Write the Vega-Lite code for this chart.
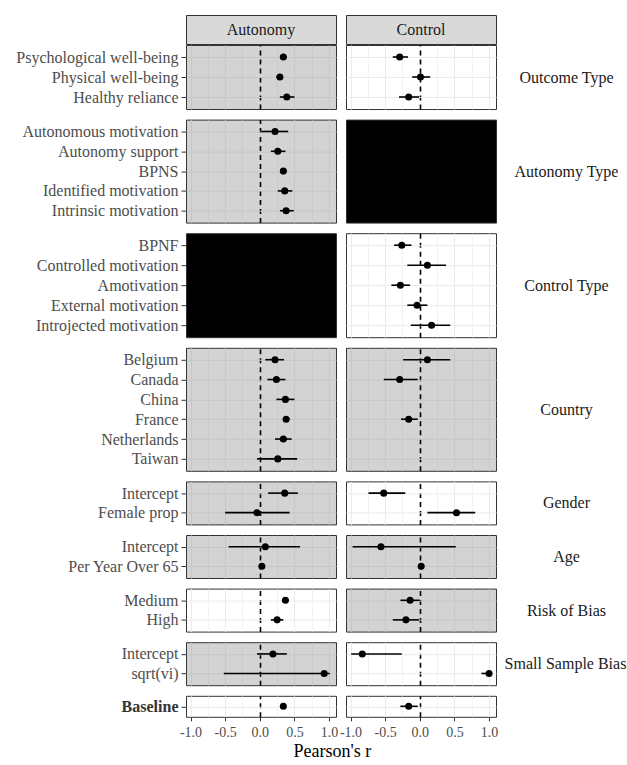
{
  "$schema": "https://vega.github.io/schema/vega-lite/v6.json",
  "background": "white",
  "padding": {"left": 10, "top": 14, "right": 0, "bottom": 2},
  "spacing": 8.6,
  "title": {"text": "Pearson's r", "orient": "bottom", "anchor": "middle", "font": "Liberation Serif", "fontSize": 18, "fontWeight": "normal", "color": "#000000", "offset": 3, "dx": 14},
  "config": {
    "font": "Liberation Serif",
    "view": {"stroke": "#333333", "strokeWidth": 1},
    "axis": {"labelFont": "Liberation Serif", "titleFont": "Liberation Serif"}
  },
  "datasets": {
    "d": [
      {"type": "Autonomy", "group": "Outcome Type", "label": "Psychological well-being", "est": 0.34, "lo": 0.30, "hi": 0.39},
      {"type": "Autonomy", "group": "Outcome Type", "label": "Physical well-being", "est": 0.29, "lo": 0.24, "hi": 0.33},
      {"type": "Autonomy", "group": "Outcome Type", "label": "Healthy reliance", "est": 0.39, "lo": 0.29, "hi": 0.50},
      {"type": "Autonomy", "group": "Autonomy Type", "label": "Autonomous motivation", "est": 0.22, "lo": 0.02, "hi": 0.41},
      {"type": "Autonomy", "group": "Autonomy Type", "label": "Autonomy support", "est": 0.26, "lo": 0.16, "hi": 0.37},
      {"type": "Autonomy", "group": "Autonomy Type", "label": "BPNS", "est": 0.34, "lo": 0.30, "hi": 0.39},
      {"type": "Autonomy", "group": "Autonomy Type", "label": "Identified motivation", "est": 0.36, "lo": 0.26, "hi": 0.47},
      {"type": "Autonomy", "group": "Autonomy Type", "label": "Intrinsic motivation", "est": 0.38, "lo": 0.29, "hi": 0.49},
      {"type": "Autonomy", "group": "Country", "label": "Belgium", "est": 0.22, "lo": 0.08, "hi": 0.35},
      {"type": "Autonomy", "group": "Country", "label": "Canada", "est": 0.24, "lo": 0.11, "hi": 0.37},
      {"type": "Autonomy", "group": "Country", "label": "China", "est": 0.37, "lo": 0.24, "hi": 0.50},
      {"type": "Autonomy", "group": "Country", "label": "France", "est": 0.38, "lo": 0.34, "hi": 0.43},
      {"type": "Autonomy", "group": "Country", "label": "Netherlands", "est": 0.34, "lo": 0.22, "hi": 0.46},
      {"type": "Autonomy", "group": "Country", "label": "Taiwan", "est": 0.26, "lo": -0.04, "hi": 0.54},
      {"type": "Autonomy", "group": "Gender", "label": "Intercept", "est": 0.36, "lo": 0.12, "hi": 0.55},
      {"type": "Autonomy", "group": "Gender", "label": "Female prop", "est": -0.04, "lo": -0.50, "hi": 0.43},
      {"type": "Autonomy", "group": "Age", "label": "Intercept", "est": 0.08, "lo": -0.45, "hi": 0.58},
      {"type": "Autonomy", "group": "Age", "label": "Per Year Over 65", "est": 0.03, "lo": 0.01, "hi": 0.05},
      {"type": "Autonomy", "group": "Risk of Bias", "label": "Medium", "est": 0.37, "lo": 0.33, "hi": 0.42},
      {"type": "Autonomy", "group": "Risk of Bias", "label": "High", "est": 0.25, "lo": 0.16, "hi": 0.34},
      {"type": "Autonomy", "group": "Small Sample Bias", "label": "Intercept", "est": 0.19, "lo": -0.04, "hi": 0.39},
      {"type": "Autonomy", "group": "Small Sample Bias", "label": "sqrt(vi)", "est": 0.93, "lo": -0.52, "hi": 1.01},
      {"type": "Autonomy", "group": "Baseline", "label": "Baseline", "est": 0.34, "lo": 0.30, "hi": 0.37},
      {"type": "Control", "group": "Outcome Type", "label": "Psychological well-being", "est": -0.29, "lo": -0.39, "hi": -0.17},
      {"type": "Control", "group": "Outcome Type", "label": "Physical well-being", "est": 0.01, "lo": -0.11, "hi": 0.15},
      {"type": "Control", "group": "Outcome Type", "label": "Healthy reliance", "est": -0.16, "lo": -0.30, "hi": -0.01},
      {"type": "Control", "group": "Control Type", "label": "BPNF", "est": -0.26, "lo": -0.37, "hi": -0.12},
      {"type": "Control", "group": "Control Type", "label": "Controlled motivation", "est": 0.11, "lo": -0.18, "hi": 0.38},
      {"type": "Control", "group": "Control Type", "label": "Amotivation", "est": -0.28, "lo": -0.41, "hi": -0.14},
      {"type": "Control", "group": "Control Type", "label": "External motivation", "est": -0.04, "lo": -0.18, "hi": 0.11},
      {"type": "Control", "group": "Control Type", "label": "Introjected motivation", "est": 0.17, "lo": -0.13, "hi": 0.44},
      {"type": "Control", "group": "Country", "label": "Belgium", "est": 0.11, "lo": -0.24, "hi": 0.44},
      {"type": "Control", "group": "Country", "label": "Canada", "est": -0.29, "lo": -0.52, "hi": -0.03},
      {"type": "Control", "group": "Country", "label": "France", "est": -0.16, "lo": -0.27, "hi": -0.03},
      {"type": "Control", "group": "Gender", "label": "Intercept", "est": -0.52, "lo": -0.74, "hi": -0.21},
      {"type": "Control", "group": "Gender", "label": "Female prop", "est": 0.53, "lo": 0.11, "hi": 0.80},
      {"type": "Control", "group": "Age", "label": "Intercept", "est": -0.56, "lo": -0.97, "hi": 0.52},
      {"type": "Control", "group": "Age", "label": "Per Year Over 65", "est": 0.02, "lo": -0.02, "hi": 0.06},
      {"type": "Control", "group": "Risk of Bias", "label": "Medium", "est": -0.14, "lo": -0.28, "hi": 0.00},
      {"type": "Control", "group": "Risk of Bias", "label": "High", "est": -0.20, "lo": -0.39, "hi": -0.01},
      {"type": "Control", "group": "Small Sample Bias", "label": "Intercept", "est": -0.83, "lo": -0.99, "hi": -0.26},
      {"type": "Control", "group": "Small Sample Bias", "label": "sqrt(vi)", "est": 1.00, "lo": 0.89, "hi": 1.00},
      {"type": "Control", "group": "Baseline", "label": "Baseline", "est": -0.16, "lo": -0.28, "hi": -0.03}
    ]
  },
  "vconcat": [
    {
      "spacing": -4,
      "vconcat": [
        {
          "spacing": 10, "bounds": "flush",
          "hconcat": [
            {
              "width": 150, "height": 29,
              "view": {"fill": "#D9D9D9", "stroke": "#333333"},
              "data": {"name": "d"},
              "transform": [{"filter": "datum.type == 'Autonomy' && datum.group == 'Baseline'"}],
              "mark": {"type": "text", "fontSize": 16, "color": "#1A1A1A", "font": "Liberation Serif"},
              "encoding": {
                "text": {"field": "type"},
                "y": {"datum": "h", "type": "nominal", "axis": {"labels": false, "ticks": false, "domain": false, "grid": false, "title": null, "minExtent": 175}}
              }
            },
            {
              "width": 150, "height": 29,
              "view": {"fill": "#D9D9D9", "stroke": "#333333"},
              "data": {"name": "d"},
              "transform": [{"filter": "datum.type == 'Control' && datum.group == 'Baseline'"}],
              "mark": {"type": "text", "fontSize": 16, "color": "#1A1A1A", "font": "Liberation Serif"},
              "encoding": {"text": {"field": "type"}}
            }
          ]
        },
        {
          "spacing": 10, "bounds": "flush",
          "hconcat": [
            {
              "width": 150, "height": 64,
              "view": {"fill": "#D3D3D3", "stroke": "#333333"},
              "data": {"name": "d"},
              "transform": [{"filter": "datum.type == 'Autonomy' && datum.group == 'Outcome Type'"}],
              "encoding": {"y": {"field": "label", "type": "nominal", "scale": {"type": "point", "padding": 0.6, "domain": ["Psychological well-being", "Physical well-being", "Healthy reliance"]},
                "axis": {"orient": "left", "title": null, "domain": false, "tickSize": 5, "tickColor": "#333333", "labelFontSize": 16, "labelColor": "#4D4D4D", "labelPadding": 3, "labelLimit": 0, "minExtent": 175, "grid": true, "gridColor": "#C6C6C6", "gridWidth": 1}}},
              "layer": [
                {"mark": {"type": "rule", "strokeWidth": 1.6, "color": "#000000"},
                 "encoding": {"x": {"field": "lo", "type": "quantitative", "scale": {"domain": [-1.065, 1.1], "nice": false, "zero": false},
                   "axis": {"title": null, "labels": false, "ticks": false, "domain": false, "grid": true, "values": [-1, -0.75, -0.5, -0.25, 0, 0.25, 0.5, 0.75, 1], "minExtent": 0, "gridColor": {"condition": {"test": "datum.value == 0", "value": "#000000"}, "value": "#C6C6C6"}, "gridDash": {"condition": {"test": "datum.value == 0", "value": [5, 4]}, "value": []}, "gridWidth": {"condition": [{"test": "datum.value == 0", "value": 1.6}, {"test": "abs(datum.value*2 - round(datum.value*2)) > 0.1", "value": 0.6}], "value": 1}}},
                   "x2": {"field": "hi"}}},
                {"mark": {"type": "point", "filled": true, "size": 50, "color": "#000000", "opacity": 1},
                 "encoding": {"x": {"field": "est", "type": "quantitative", "scale": {"domain": [-1.065, 1.1], "nice": false, "zero": false},
                   "axis": {"title": null, "labels": false, "ticks": false, "domain": false, "grid": true, "values": [-1, -0.75, -0.5, -0.25, 0, 0.25, 0.5, 0.75, 1], "minExtent": 0, "gridColor": {"condition": {"test": "datum.value == 0", "value": "#000000"}, "value": "#C6C6C6"}, "gridDash": {"condition": {"test": "datum.value == 0", "value": [5, 4]}, "value": []}, "gridWidth": {"condition": [{"test": "datum.value == 0", "value": 1.6}, {"test": "abs(datum.value*2 - round(datum.value*2)) > 0.1", "value": 0.6}], "value": 1}}}}}
              ]
            },
            {
              "width": 150, "height": 64,
              "view": {"fill": "#FFFFFF", "stroke": "#333333"},
              "data": {"name": "d"},
              "transform": [{"filter": "datum.type == 'Control' && datum.group == 'Outcome Type'"}],
              "encoding": {"y": {"field": "label", "type": "nominal", "scale": {"type": "point", "padding": 0.6, "domain": ["Psychological well-being", "Physical well-being", "Healthy reliance"]},
                "axis": {"orient": "right", "title": "Outcome Type", "labels": false, "ticks": false, "domain": false, "grid": true, "gridColor": "#EBEBEB", "gridWidth": 1, "titleAngle": 0, "titleAlign": "center", "titleBaseline": "middle", "titleX": 70, "titleY": 32, "titleFontSize": 16, "titleFontWeight": "normal", "titleColor": "#1A1A1A"}}},
              "layer": [
                {"mark": {"type": "rule", "strokeWidth": 1.6, "color": "#000000"},
                 "encoding": {"x": {"field": "lo", "type": "quantitative", "scale": {"domain": [-1.065, 1.1], "nice": false, "zero": false},
                   "axis": {"title": null, "labels": false, "ticks": false, "domain": false, "grid": true, "values": [-1, -0.75, -0.5, -0.25, 0, 0.25, 0.5, 0.75, 1], "minExtent": 0, "gridColor": {"condition": {"test": "datum.value == 0", "value": "#000000"}, "value": "#EBEBEB"}, "gridDash": {"condition": {"test": "datum.value == 0", "value": [5, 4]}, "value": []}, "gridWidth": {"condition": [{"test": "datum.value == 0", "value": 1.6}, {"test": "abs(datum.value*2 - round(datum.value*2)) > 0.1", "value": 0.6}], "value": 1}}},
                   "x2": {"field": "hi"}}},
                {"mark": {"type": "point", "filled": true, "size": 50, "color": "#000000", "opacity": 1},
                 "encoding": {"x": {"field": "est", "type": "quantitative", "scale": {"domain": [-1.065, 1.1], "nice": false, "zero": false},
                   "axis": {"title": null, "labels": false, "ticks": false, "domain": false, "grid": true, "values": [-1, -0.75, -0.5, -0.25, 0, 0.25, 0.5, 0.75, 1], "minExtent": 0, "gridColor": {"condition": {"test": "datum.value == 0", "value": "#000000"}, "value": "#EBEBEB"}, "gridDash": {"condition": {"test": "datum.value == 0", "value": [5, 4]}, "value": []}, "gridWidth": {"condition": [{"test": "datum.value == 0", "value": 1.6}, {"test": "abs(datum.value*2 - round(datum.value*2)) > 0.1", "value": 0.6}], "value": 1}}}}}
              ]
            }
          ]
        }
      ]
    },
    {
      "spacing": 10, "bounds": "flush",
      "hconcat": [
        {
          "width": 150, "height": 103,
          "view": {"fill": "#D3D3D3", "stroke": "#333333"},
          "data": {"name": "d"},
          "transform": [{"filter": "datum.type == 'Autonomy' && datum.group == 'Autonomy Type'"}],
          "encoding": {"y": {"field": "label", "type": "nominal", "scale": {"type": "point", "padding": 0.6, "domain": ["Autonomous motivation", "Autonomy support", "BPNS", "Identified motivation", "Intrinsic motivation"]},
            "axis": {"orient": "left", "title": null, "domain": false, "tickSize": 5, "tickColor": "#333333", "labelFontSize": 16, "labelColor": "#4D4D4D", "labelPadding": 3, "labelLimit": 0, "minExtent": 175, "grid": true, "gridColor": "#C6C6C6", "gridWidth": 1}}},
          "layer": [
            {"mark": {"type": "rule", "strokeWidth": 1.6, "color": "#000000"},
             "encoding": {"x": {"field": "lo", "type": "quantitative", "scale": {"domain": [-1.065, 1.1], "nice": false, "zero": false},
               "axis": {"title": null, "labels": false, "ticks": false, "domain": false, "grid": true, "values": [-1, -0.75, -0.5, -0.25, 0, 0.25, 0.5, 0.75, 1], "minExtent": 0, "gridColor": {"condition": {"test": "datum.value == 0", "value": "#000000"}, "value": "#C6C6C6"}, "gridDash": {"condition": {"test": "datum.value == 0", "value": [5, 4]}, "value": []}, "gridWidth": {"condition": [{"test": "datum.value == 0", "value": 1.6}, {"test": "abs(datum.value*2 - round(datum.value*2)) > 0.1", "value": 0.6}], "value": 1}}},
               "x2": {"field": "hi"}}},
            {"mark": {"type": "point", "filled": true, "size": 50, "color": "#000000", "opacity": 1},
             "encoding": {"x": {"field": "est", "type": "quantitative", "scale": {"domain": [-1.065, 1.1], "nice": false, "zero": false},
               "axis": {"title": null, "labels": false, "ticks": false, "domain": false, "grid": true, "values": [-1, -0.75, -0.5, -0.25, 0, 0.25, 0.5, 0.75, 1], "minExtent": 0, "gridColor": {"condition": {"test": "datum.value == 0", "value": "#000000"}, "value": "#C6C6C6"}, "gridDash": {"condition": {"test": "datum.value == 0", "value": [5, 4]}, "value": []}, "gridWidth": {"condition": [{"test": "datum.value == 0", "value": 1.6}, {"test": "abs(datum.value*2 - round(datum.value*2)) > 0.1", "value": 0.6}], "value": 1}}}}}
          ]
        },
        {
          "width": 150, "height": 103,
          "view": {"fill": "#000000", "stroke": "#333333"},
          "data": {"name": "d"},
          "transform": [{"filter": "datum.type == 'Control' && datum.group == 'Autonomy Type'"}],
          "mark": {"type": "point", "filled": true, "size": 50, "color": "#000000"},
          "encoding": {
            "x": {"field": "est", "type": "quantitative", "scale": {"domain": [-1.065, 1.1], "nice": false, "zero": false},
                  "axis": {"title": null, "labels": false, "ticks": false, "domain": false, "grid": false, "minExtent": 0}},
            "y": {"field": "label", "type": "nominal", "scale": {"type": "point", "padding": 0.6, "domain": ["Autonomous motivation", "Autonomy support", "BPNS", "Identified motivation", "Intrinsic motivation"]},
                  "axis": {"orient": "right", "title": "Autonomy Type", "labels": false, "ticks": false, "domain": false, "grid": false, "titleAngle": 0, "titleAlign": "center", "titleBaseline": "middle", "titleX": 70, "titleY": 51.5, "titleFontSize": 16, "titleFontWeight": "normal", "titleColor": "#1A1A1A"}}
          }
        }
      ]
    },
    {
      "spacing": 10, "bounds": "flush",
      "hconcat": [
        {
          "width": 150, "height": 104,
          "view": {"fill": "#000000", "stroke": "#333333"},
          "data": {"name": "d"},
          "transform": [{"filter": "datum.type == 'Autonomy' && datum.group == 'Control Type'"}],
          "mark": {"type": "point", "filled": true, "size": 50, "color": "#000000"},
          "encoding": {
            "x": {"field": "est", "type": "quantitative", "scale": {"domain": [-1.065, 1.1], "nice": false, "zero": false},
                  "axis": {"title": null, "labels": false, "ticks": false, "domain": false, "grid": false, "minExtent": 0}},
            "y": {"field": "label", "type": "nominal", "scale": {"type": "point", "padding": 0.6, "domain": ["BPNF", "Controlled motivation", "Amotivation", "External motivation", "Introjected motivation"]},
                  "axis": {"orient": "left", "title": null, "domain": false, "tickSize": 5, "tickColor": "#333333", "labelFontSize": 16, "labelColor": "#4D4D4D", "labelPadding": 3, "labelLimit": 0, "minExtent": 175, "grid": false}}
          }
        },
        {
          "width": 150, "height": 104,
          "view": {"fill": "#FFFFFF", "stroke": "#333333"},
          "data": {"name": "d"},
          "transform": [{"filter": "datum.type == 'Control' && datum.group == 'Control Type'"}],
          "encoding": {"y": {"field": "label", "type": "nominal", "scale": {"type": "point", "padding": 0.6, "domain": ["BPNF", "Controlled motivation", "Amotivation", "External motivation", "Introjected motivation"]},
            "axis": {"orient": "right", "title": "Control Type", "labels": false, "ticks": false, "domain": false, "grid": true, "gridColor": "#EBEBEB", "gridWidth": 1, "titleAngle": 0, "titleAlign": "center", "titleBaseline": "middle", "titleX": 70, "titleY": 52, "titleFontSize": 16, "titleFontWeight": "normal", "titleColor": "#1A1A1A"}}},
          "layer": [
            {"mark": {"type": "rule", "strokeWidth": 1.6, "color": "#000000"},
             "encoding": {"x": {"field": "lo", "type": "quantitative", "scale": {"domain": [-1.065, 1.1], "nice": false, "zero": false},
               "axis": {"title": null, "labels": false, "ticks": false, "domain": false, "grid": true, "values": [-1, -0.75, -0.5, -0.25, 0, 0.25, 0.5, 0.75, 1], "minExtent": 0, "gridColor": {"condition": {"test": "datum.value == 0", "value": "#000000"}, "value": "#EBEBEB"}, "gridDash": {"condition": {"test": "datum.value == 0", "value": [5, 4]}, "value": []}, "gridWidth": {"condition": [{"test": "datum.value == 0", "value": 1.6}, {"test": "abs(datum.value*2 - round(datum.value*2)) > 0.1", "value": 0.6}], "value": 1}}},
               "x2": {"field": "hi"}}},
            {"mark": {"type": "point", "filled": true, "size": 50, "color": "#000000", "opacity": 1},
             "encoding": {"x": {"field": "est", "type": "quantitative", "scale": {"domain": [-1.065, 1.1], "nice": false, "zero": false},
               "axis": {"title": null, "labels": false, "ticks": false, "domain": false, "grid": true, "values": [-1, -0.75, -0.5, -0.25, 0, 0.25, 0.5, 0.75, 1], "minExtent": 0, "gridColor": {"condition": {"test": "datum.value == 0", "value": "#000000"}, "value": "#EBEBEB"}, "gridDash": {"condition": {"test": "datum.value == 0", "value": [5, 4]}, "value": []}, "gridWidth": {"condition": [{"test": "datum.value == 0", "value": 1.6}, {"test": "abs(datum.value*2 - round(datum.value*2)) > 0.1", "value": 0.6}], "value": 1}}}}}
          ]
        }
      ]
    },
    {
      "spacing": 10, "bounds": "flush",
      "hconcat": [
        {
          "width": 150, "height": 123,
          "view": {"fill": "#D3D3D3", "stroke": "#333333"},
          "data": {"name": "d"},
          "transform": [{"filter": "datum.type == 'Autonomy' && datum.group == 'Country'"}],
          "encoding": {"y": {"field": "label", "type": "nominal", "scale": {"type": "point", "padding": 0.6, "domain": ["Belgium", "Canada", "China", "France", "Netherlands", "Taiwan"]},
            "axis": {"orient": "left", "title": null, "domain": false, "tickSize": 5, "tickColor": "#333333", "labelFontSize": 16, "labelColor": "#4D4D4D", "labelPadding": 3, "labelLimit": 0, "minExtent": 175, "grid": true, "gridColor": "#C6C6C6", "gridWidth": 1}}},
          "layer": [
            {"mark": {"type": "rule", "strokeWidth": 1.6, "color": "#000000"},
             "encoding": {"x": {"field": "lo", "type": "quantitative", "scale": {"domain": [-1.065, 1.1], "nice": false, "zero": false},
               "axis": {"title": null, "labels": false, "ticks": false, "domain": false, "grid": true, "values": [-1, -0.75, -0.5, -0.25, 0, 0.25, 0.5, 0.75, 1], "minExtent": 0, "gridColor": {"condition": {"test": "datum.value == 0", "value": "#000000"}, "value": "#C6C6C6"}, "gridDash": {"condition": {"test": "datum.value == 0", "value": [5, 4]}, "value": []}, "gridWidth": {"condition": [{"test": "datum.value == 0", "value": 1.6}, {"test": "abs(datum.value*2 - round(datum.value*2)) > 0.1", "value": 0.6}], "value": 1}}},
               "x2": {"field": "hi"}}},
            {"mark": {"type": "point", "filled": true, "size": 50, "color": "#000000", "opacity": 1},
             "encoding": {"x": {"field": "est", "type": "quantitative", "scale": {"domain": [-1.065, 1.1], "nice": false, "zero": false},
               "axis": {"title": null, "labels": false, "ticks": false, "domain": false, "grid": true, "values": [-1, -0.75, -0.5, -0.25, 0, 0.25, 0.5, 0.75, 1], "minExtent": 0, "gridColor": {"condition": {"test": "datum.value == 0", "value": "#000000"}, "value": "#C6C6C6"}, "gridDash": {"condition": {"test": "datum.value == 0", "value": [5, 4]}, "value": []}, "gridWidth": {"condition": [{"test": "datum.value == 0", "value": 1.6}, {"test": "abs(datum.value*2 - round(datum.value*2)) > 0.1", "value": 0.6}], "value": 1}}}}}
          ]
        },
        {
          "width": 150, "height": 123,
          "view": {"fill": "#D3D3D3", "stroke": "#333333"},
          "data": {"name": "d"},
          "transform": [{"filter": "datum.type == 'Control' && datum.group == 'Country'"}],
          "encoding": {"y": {"field": "label", "type": "nominal", "scale": {"type": "point", "padding": 0.6, "domain": ["Belgium", "Canada", "China", "France", "Netherlands", "Taiwan"]},
            "axis": {"orient": "right", "title": "Country", "labels": false, "ticks": false, "domain": false, "grid": true, "gridColor": "#C6C6C6", "gridWidth": 1, "titleAngle": 0, "titleAlign": "center", "titleBaseline": "middle", "titleX": 70, "titleY": 61.5, "titleFontSize": 16, "titleFontWeight": "normal", "titleColor": "#1A1A1A"}}},
          "layer": [
            {"mark": {"type": "rule", "strokeWidth": 1.6, "color": "#000000"},
             "encoding": {"x": {"field": "lo", "type": "quantitative", "scale": {"domain": [-1.065, 1.1], "nice": false, "zero": false},
               "axis": {"title": null, "labels": false, "ticks": false, "domain": false, "grid": true, "values": [-1, -0.75, -0.5, -0.25, 0, 0.25, 0.5, 0.75, 1], "minExtent": 0, "gridColor": {"condition": {"test": "datum.value == 0", "value": "#000000"}, "value": "#C6C6C6"}, "gridDash": {"condition": {"test": "datum.value == 0", "value": [5, 4]}, "value": []}, "gridWidth": {"condition": [{"test": "datum.value == 0", "value": 1.6}, {"test": "abs(datum.value*2 - round(datum.value*2)) > 0.1", "value": 0.6}], "value": 1}}},
               "x2": {"field": "hi"}}},
            {"mark": {"type": "point", "filled": true, "size": 50, "color": "#000000", "opacity": 1},
             "encoding": {"x": {"field": "est", "type": "quantitative", "scale": {"domain": [-1.065, 1.1], "nice": false, "zero": false},
               "axis": {"title": null, "labels": false, "ticks": false, "domain": false, "grid": true, "values": [-1, -0.75, -0.5, -0.25, 0, 0.25, 0.5, 0.75, 1], "minExtent": 0, "gridColor": {"condition": {"test": "datum.value == 0", "value": "#000000"}, "value": "#C6C6C6"}, "gridDash": {"condition": {"test": "datum.value == 0", "value": [5, 4]}, "value": []}, "gridWidth": {"condition": [{"test": "datum.value == 0", "value": 1.6}, {"test": "abs(datum.value*2 - round(datum.value*2)) > 0.1", "value": 0.6}], "value": 1}}}}}
          ]
        }
      ]
    },
    {
      "spacing": 10, "bounds": "flush",
      "hconcat": [
        {
          "width": 150, "height": 43,
          "view": {"fill": "#D3D3D3", "stroke": "#333333"},
          "data": {"name": "d"},
          "transform": [{"filter": "datum.type == 'Autonomy' && datum.group == 'Gender'"}],
          "encoding": {"y": {"field": "label", "type": "nominal", "scale": {"type": "point", "padding": 0.6, "domain": ["Intercept", "Female prop"]},
            "axis": {"orient": "left", "title": null, "domain": false, "tickSize": 5, "tickColor": "#333333", "labelFontSize": 16, "labelColor": "#4D4D4D", "labelPadding": 3, "labelLimit": 0, "minExtent": 175, "grid": true, "gridColor": "#C6C6C6", "gridWidth": 1}}},
          "layer": [
            {"mark": {"type": "rule", "strokeWidth": 1.6, "color": "#000000"},
             "encoding": {"x": {"field": "lo", "type": "quantitative", "scale": {"domain": [-1.065, 1.1], "nice": false, "zero": false},
               "axis": {"title": null, "labels": false, "ticks": false, "domain": false, "grid": true, "values": [-1, -0.75, -0.5, -0.25, 0, 0.25, 0.5, 0.75, 1], "minExtent": 0, "gridColor": {"condition": {"test": "datum.value == 0", "value": "#000000"}, "value": "#C6C6C6"}, "gridDash": {"condition": {"test": "datum.value == 0", "value": [5, 4]}, "value": []}, "gridWidth": {"condition": [{"test": "datum.value == 0", "value": 1.6}, {"test": "abs(datum.value*2 - round(datum.value*2)) > 0.1", "value": 0.6}], "value": 1}}},
               "x2": {"field": "hi"}}},
            {"mark": {"type": "point", "filled": true, "size": 50, "color": "#000000", "opacity": 1},
             "encoding": {"x": {"field": "est", "type": "quantitative", "scale": {"domain": [-1.065, 1.1], "nice": false, "zero": false},
               "axis": {"title": null, "labels": false, "ticks": false, "domain": false, "grid": true, "values": [-1, -0.75, -0.5, -0.25, 0, 0.25, 0.5, 0.75, 1], "minExtent": 0, "gridColor": {"condition": {"test": "datum.value == 0", "value": "#000000"}, "value": "#C6C6C6"}, "gridDash": {"condition": {"test": "datum.value == 0", "value": [5, 4]}, "value": []}, "gridWidth": {"condition": [{"test": "datum.value == 0", "value": 1.6}, {"test": "abs(datum.value*2 - round(datum.value*2)) > 0.1", "value": 0.6}], "value": 1}}}}}
          ]
        },
        {
          "width": 150, "height": 43,
          "view": {"fill": "#FFFFFF", "stroke": "#333333"},
          "data": {"name": "d"},
          "transform": [{"filter": "datum.type == 'Control' && datum.group == 'Gender'"}],
          "encoding": {"y": {"field": "label", "type": "nominal", "scale": {"type": "point", "padding": 0.6, "domain": ["Intercept", "Female prop"]},
            "axis": {"orient": "right", "title": "Gender", "labels": false, "ticks": false, "domain": false, "grid": true, "gridColor": "#EBEBEB", "gridWidth": 1, "titleAngle": 0, "titleAlign": "center", "titleBaseline": "middle", "titleX": 70, "titleY": 21.5, "titleFontSize": 16, "titleFontWeight": "normal", "titleColor": "#1A1A1A"}}},
          "layer": [
            {"mark": {"type": "rule", "strokeWidth": 1.6, "color": "#000000"},
             "encoding": {"x": {"field": "lo", "type": "quantitative", "scale": {"domain": [-1.065, 1.1], "nice": false, "zero": false},
               "axis": {"title": null, "labels": false, "ticks": false, "domain": false, "grid": true, "values": [-1, -0.75, -0.5, -0.25, 0, 0.25, 0.5, 0.75, 1], "minExtent": 0, "gridColor": {"condition": {"test": "datum.value == 0", "value": "#000000"}, "value": "#EBEBEB"}, "gridDash": {"condition": {"test": "datum.value == 0", "value": [5, 4]}, "value": []}, "gridWidth": {"condition": [{"test": "datum.value == 0", "value": 1.6}, {"test": "abs(datum.value*2 - round(datum.value*2)) > 0.1", "value": 0.6}], "value": 1}}},
               "x2": {"field": "hi"}}},
            {"mark": {"type": "point", "filled": true, "size": 50, "color": "#000000", "opacity": 1},
             "encoding": {"x": {"field": "est", "type": "quantitative", "scale": {"domain": [-1.065, 1.1], "nice": false, "zero": false},
               "axis": {"title": null, "labels": false, "ticks": false, "domain": false, "grid": true, "values": [-1, -0.75, -0.5, -0.25, 0, 0.25, 0.5, 0.75, 1], "minExtent": 0, "gridColor": {"condition": {"test": "datum.value == 0", "value": "#000000"}, "value": "#EBEBEB"}, "gridDash": {"condition": {"test": "datum.value == 0", "value": [5, 4]}, "value": []}, "gridWidth": {"condition": [{"test": "datum.value == 0", "value": 1.6}, {"test": "abs(datum.value*2 - round(datum.value*2)) > 0.1", "value": 0.6}], "value": 1}}}}}
          ]
        }
      ]
    },
    {
      "spacing": 10, "bounds": "flush",
      "hconcat": [
        {
          "width": 150, "height": 43,
          "view": {"fill": "#D3D3D3", "stroke": "#333333"},
          "data": {"name": "d"},
          "transform": [{"filter": "datum.type == 'Autonomy' && datum.group == 'Age'"}],
          "encoding": {"y": {"field": "label", "type": "nominal", "scale": {"type": "point", "padding": 0.6, "domain": ["Intercept", "Per Year Over 65"]},
            "axis": {"orient": "left", "title": null, "domain": false, "tickSize": 5, "tickColor": "#333333", "labelFontSize": 16, "labelColor": "#4D4D4D", "labelPadding": 3, "labelLimit": 0, "minExtent": 175, "grid": true, "gridColor": "#C6C6C6", "gridWidth": 1}}},
          "layer": [
            {"mark": {"type": "rule", "strokeWidth": 1.6, "color": "#000000"},
             "encoding": {"x": {"field": "lo", "type": "quantitative", "scale": {"domain": [-1.065, 1.1], "nice": false, "zero": false},
               "axis": {"title": null, "labels": false, "ticks": false, "domain": false, "grid": true, "values": [-1, -0.75, -0.5, -0.25, 0, 0.25, 0.5, 0.75, 1], "minExtent": 0, "gridColor": {"condition": {"test": "datum.value == 0", "value": "#000000"}, "value": "#C6C6C6"}, "gridDash": {"condition": {"test": "datum.value == 0", "value": [5, 4]}, "value": []}, "gridWidth": {"condition": [{"test": "datum.value == 0", "value": 1.6}, {"test": "abs(datum.value*2 - round(datum.value*2)) > 0.1", "value": 0.6}], "value": 1}}},
               "x2": {"field": "hi"}}},
            {"mark": {"type": "point", "filled": true, "size": 50, "color": "#000000", "opacity": 1},
             "encoding": {"x": {"field": "est", "type": "quantitative", "scale": {"domain": [-1.065, 1.1], "nice": false, "zero": false},
               "axis": {"title": null, "labels": false, "ticks": false, "domain": false, "grid": true, "values": [-1, -0.75, -0.5, -0.25, 0, 0.25, 0.5, 0.75, 1], "minExtent": 0, "gridColor": {"condition": {"test": "datum.value == 0", "value": "#000000"}, "value": "#C6C6C6"}, "gridDash": {"condition": {"test": "datum.value == 0", "value": [5, 4]}, "value": []}, "gridWidth": {"condition": [{"test": "datum.value == 0", "value": 1.6}, {"test": "abs(datum.value*2 - round(datum.value*2)) > 0.1", "value": 0.6}], "value": 1}}}}}
          ]
        },
        {
          "width": 150, "height": 43,
          "view": {"fill": "#D3D3D3", "stroke": "#333333"},
          "data": {"name": "d"},
          "transform": [{"filter": "datum.type == 'Control' && datum.group == 'Age'"}],
          "encoding": {"y": {"field": "label", "type": "nominal", "scale": {"type": "point", "padding": 0.6, "domain": ["Intercept", "Per Year Over 65"]},
            "axis": {"orient": "right", "title": "Age", "labels": false, "ticks": false, "domain": false, "grid": true, "gridColor": "#C6C6C6", "gridWidth": 1, "titleAngle": 0, "titleAlign": "center", "titleBaseline": "middle", "titleX": 70, "titleY": 21.5, "titleFontSize": 16, "titleFontWeight": "normal", "titleColor": "#1A1A1A"}}},
          "layer": [
            {"mark": {"type": "rule", "strokeWidth": 1.6, "color": "#000000"},
             "encoding": {"x": {"field": "lo", "type": "quantitative", "scale": {"domain": [-1.065, 1.1], "nice": false, "zero": false},
               "axis": {"title": null, "labels": false, "ticks": false, "domain": false, "grid": true, "values": [-1, -0.75, -0.5, -0.25, 0, 0.25, 0.5, 0.75, 1], "minExtent": 0, "gridColor": {"condition": {"test": "datum.value == 0", "value": "#000000"}, "value": "#C6C6C6"}, "gridDash": {"condition": {"test": "datum.value == 0", "value": [5, 4]}, "value": []}, "gridWidth": {"condition": [{"test": "datum.value == 0", "value": 1.6}, {"test": "abs(datum.value*2 - round(datum.value*2)) > 0.1", "value": 0.6}], "value": 1}}},
               "x2": {"field": "hi"}}},
            {"mark": {"type": "point", "filled": true, "size": 50, "color": "#000000", "opacity": 1},
             "encoding": {"x": {"field": "est", "type": "quantitative", "scale": {"domain": [-1.065, 1.1], "nice": false, "zero": false},
               "axis": {"title": null, "labels": false, "ticks": false, "domain": false, "grid": true, "values": [-1, -0.75, -0.5, -0.25, 0, 0.25, 0.5, 0.75, 1], "minExtent": 0, "gridColor": {"condition": {"test": "datum.value == 0", "value": "#000000"}, "value": "#C6C6C6"}, "gridDash": {"condition": {"test": "datum.value == 0", "value": [5, 4]}, "value": []}, "gridWidth": {"condition": [{"test": "datum.value == 0", "value": 1.6}, {"test": "abs(datum.value*2 - round(datum.value*2)) > 0.1", "value": 0.6}], "value": 1}}}}}
          ]
        }
      ]
    },
    {
      "spacing": 10, "bounds": "flush",
      "hconcat": [
        {
          "width": 150, "height": 43,
          "view": {"fill": "#FFFFFF", "stroke": "#333333"},
          "data": {"name": "d"},
          "transform": [{"filter": "datum.type == 'Autonomy' && datum.group == 'Risk of Bias'"}],
          "encoding": {"y": {"field": "label", "type": "nominal", "scale": {"type": "point", "padding": 0.6, "domain": ["Medium", "High"]},
            "axis": {"orient": "left", "title": null, "domain": false, "tickSize": 5, "tickColor": "#333333", "labelFontSize": 16, "labelColor": "#4D4D4D", "labelPadding": 3, "labelLimit": 0, "minExtent": 175, "grid": true, "gridColor": "#EBEBEB", "gridWidth": 1}}},
          "layer": [
            {"mark": {"type": "rule", "strokeWidth": 1.6, "color": "#000000"},
             "encoding": {"x": {"field": "lo", "type": "quantitative", "scale": {"domain": [-1.065, 1.1], "nice": false, "zero": false},
               "axis": {"title": null, "labels": false, "ticks": false, "domain": false, "grid": true, "values": [-1, -0.75, -0.5, -0.25, 0, 0.25, 0.5, 0.75, 1], "minExtent": 0, "gridColor": {"condition": {"test": "datum.value == 0", "value": "#000000"}, "value": "#EBEBEB"}, "gridDash": {"condition": {"test": "datum.value == 0", "value": [5, 4]}, "value": []}, "gridWidth": {"condition": [{"test": "datum.value == 0", "value": 1.6}, {"test": "abs(datum.value*2 - round(datum.value*2)) > 0.1", "value": 0.6}], "value": 1}}},
               "x2": {"field": "hi"}}},
            {"mark": {"type": "point", "filled": true, "size": 50, "color": "#000000", "opacity": 1},
             "encoding": {"x": {"field": "est", "type": "quantitative", "scale": {"domain": [-1.065, 1.1], "nice": false, "zero": false},
               "axis": {"title": null, "labels": false, "ticks": false, "domain": false, "grid": true, "values": [-1, -0.75, -0.5, -0.25, 0, 0.25, 0.5, 0.75, 1], "minExtent": 0, "gridColor": {"condition": {"test": "datum.value == 0", "value": "#000000"}, "value": "#EBEBEB"}, "gridDash": {"condition": {"test": "datum.value == 0", "value": [5, 4]}, "value": []}, "gridWidth": {"condition": [{"test": "datum.value == 0", "value": 1.6}, {"test": "abs(datum.value*2 - round(datum.value*2)) > 0.1", "value": 0.6}], "value": 1}}}}}
          ]
        },
        {
          "width": 150, "height": 43,
          "view": {"fill": "#D3D3D3", "stroke": "#333333"},
          "data": {"name": "d"},
          "transform": [{"filter": "datum.type == 'Control' && datum.group == 'Risk of Bias'"}],
          "encoding": {"y": {"field": "label", "type": "nominal", "scale": {"type": "point", "padding": 0.6, "domain": ["Medium", "High"]},
            "axis": {"orient": "right", "title": "Risk of Bias", "labels": false, "ticks": false, "domain": false, "grid": true, "gridColor": "#C6C6C6", "gridWidth": 1, "titleAngle": 0, "titleAlign": "center", "titleBaseline": "middle", "titleX": 70, "titleY": 21.5, "titleFontSize": 16, "titleFontWeight": "normal", "titleColor": "#1A1A1A"}}},
          "layer": [
            {"mark": {"type": "rule", "strokeWidth": 1.6, "color": "#000000"},
             "encoding": {"x": {"field": "lo", "type": "quantitative", "scale": {"domain": [-1.065, 1.1], "nice": false, "zero": false},
               "axis": {"title": null, "labels": false, "ticks": false, "domain": false, "grid": true, "values": [-1, -0.75, -0.5, -0.25, 0, 0.25, 0.5, 0.75, 1], "minExtent": 0, "gridColor": {"condition": {"test": "datum.value == 0", "value": "#000000"}, "value": "#C6C6C6"}, "gridDash": {"condition": {"test": "datum.value == 0", "value": [5, 4]}, "value": []}, "gridWidth": {"condition": [{"test": "datum.value == 0", "value": 1.6}, {"test": "abs(datum.value*2 - round(datum.value*2)) > 0.1", "value": 0.6}], "value": 1}}},
               "x2": {"field": "hi"}}},
            {"mark": {"type": "point", "filled": true, "size": 50, "color": "#000000", "opacity": 1},
             "encoding": {"x": {"field": "est", "type": "quantitative", "scale": {"domain": [-1.065, 1.1], "nice": false, "zero": false},
               "axis": {"title": null, "labels": false, "ticks": false, "domain": false, "grid": true, "values": [-1, -0.75, -0.5, -0.25, 0, 0.25, 0.5, 0.75, 1], "minExtent": 0, "gridColor": {"condition": {"test": "datum.value == 0", "value": "#000000"}, "value": "#C6C6C6"}, "gridDash": {"condition": {"test": "datum.value == 0", "value": [5, 4]}, "value": []}, "gridWidth": {"condition": [{"test": "datum.value == 0", "value": 1.6}, {"test": "abs(datum.value*2 - round(datum.value*2)) > 0.1", "value": 0.6}], "value": 1}}}}}
          ]
        }
      ]
    },
    {
      "spacing": 10, "bounds": "flush",
      "hconcat": [
        {
          "width": 150, "height": 43,
          "view": {"fill": "#D3D3D3", "stroke": "#333333"},
          "data": {"name": "d"},
          "transform": [{"filter": "datum.type == 'Autonomy' && datum.group == 'Small Sample Bias'"}],
          "encoding": {"y": {"field": "label", "type": "nominal", "scale": {"type": "point", "padding": 0.6, "domain": ["Intercept", "sqrt(vi)"]},
            "axis": {"orient": "left", "title": null, "domain": false, "tickSize": 5, "tickColor": "#333333", "labelFontSize": 16, "labelColor": "#4D4D4D", "labelPadding": 3, "labelLimit": 0, "minExtent": 175, "grid": true, "gridColor": "#C6C6C6", "gridWidth": 1}}},
          "layer": [
            {"mark": {"type": "rule", "strokeWidth": 1.6, "color": "#000000"},
             "encoding": {"x": {"field": "lo", "type": "quantitative", "scale": {"domain": [-1.065, 1.1], "nice": false, "zero": false},
               "axis": {"title": null, "labels": false, "ticks": false, "domain": false, "grid": true, "values": [-1, -0.75, -0.5, -0.25, 0, 0.25, 0.5, 0.75, 1], "minExtent": 0, "gridColor": {"condition": {"test": "datum.value == 0", "value": "#000000"}, "value": "#C6C6C6"}, "gridDash": {"condition": {"test": "datum.value == 0", "value": [5, 4]}, "value": []}, "gridWidth": {"condition": [{"test": "datum.value == 0", "value": 1.6}, {"test": "abs(datum.value*2 - round(datum.value*2)) > 0.1", "value": 0.6}], "value": 1}}},
               "x2": {"field": "hi"}}},
            {"mark": {"type": "point", "filled": true, "size": 50, "color": "#000000", "opacity": 1},
             "encoding": {"x": {"field": "est", "type": "quantitative", "scale": {"domain": [-1.065, 1.1], "nice": false, "zero": false},
               "axis": {"title": null, "labels": false, "ticks": false, "domain": false, "grid": true, "values": [-1, -0.75, -0.5, -0.25, 0, 0.25, 0.5, 0.75, 1], "minExtent": 0, "gridColor": {"condition": {"test": "datum.value == 0", "value": "#000000"}, "value": "#C6C6C6"}, "gridDash": {"condition": {"test": "datum.value == 0", "value": [5, 4]}, "value": []}, "gridWidth": {"condition": [{"test": "datum.value == 0", "value": 1.6}, {"test": "abs(datum.value*2 - round(datum.value*2)) > 0.1", "value": 0.6}], "value": 1}}}}}
          ]
        },
        {
          "width": 150, "height": 43,
          "view": {"fill": "#FFFFFF", "stroke": "#333333"},
          "data": {"name": "d"},
          "transform": [{"filter": "datum.type == 'Control' && datum.group == 'Small Sample Bias'"}],
          "encoding": {"y": {"field": "label", "type": "nominal", "scale": {"type": "point", "padding": 0.6, "domain": ["Intercept", "sqrt(vi)"]},
            "axis": {"orient": "right", "title": "Small Sample Bias", "labels": false, "ticks": false, "domain": false, "grid": true, "gridColor": "#EBEBEB", "gridWidth": 1, "titleAngle": 0, "titleAlign": "center", "titleBaseline": "middle", "titleX": 69, "titleY": 21.5, "titleFontSize": 16, "titleFontWeight": "normal", "titleColor": "#1A1A1A"}}},
          "layer": [
            {"mark": {"type": "rule", "strokeWidth": 1.6, "color": "#000000"},
             "encoding": {"x": {"field": "lo", "type": "quantitative", "scale": {"domain": [-1.065, 1.1], "nice": false, "zero": false},
               "axis": {"title": null, "labels": false, "ticks": false, "domain": false, "grid": true, "values": [-1, -0.75, -0.5, -0.25, 0, 0.25, 0.5, 0.75, 1], "minExtent": 0, "gridColor": {"condition": {"test": "datum.value == 0", "value": "#000000"}, "value": "#EBEBEB"}, "gridDash": {"condition": {"test": "datum.value == 0", "value": [5, 4]}, "value": []}, "gridWidth": {"condition": [{"test": "datum.value == 0", "value": 1.6}, {"test": "abs(datum.value*2 - round(datum.value*2)) > 0.1", "value": 0.6}], "value": 1}}},
               "x2": {"field": "hi"}}},
            {"mark": {"type": "point", "filled": true, "size": 50, "color": "#000000", "opacity": 1},
             "encoding": {"x": {"field": "est", "type": "quantitative", "scale": {"domain": [-1.065, 1.1], "nice": false, "zero": false},
               "axis": {"title": null, "labels": false, "ticks": false, "domain": false, "grid": true, "values": [-1, -0.75, -0.5, -0.25, 0, 0.25, 0.5, 0.75, 1], "minExtent": 0, "gridColor": {"condition": {"test": "datum.value == 0", "value": "#000000"}, "value": "#EBEBEB"}, "gridDash": {"condition": {"test": "datum.value == 0", "value": [5, 4]}, "value": []}, "gridWidth": {"condition": [{"test": "datum.value == 0", "value": 1.6}, {"test": "abs(datum.value*2 - round(datum.value*2)) > 0.1", "value": 0.6}], "value": 1}}}}}
          ]
        }
      ]
    },
    {
      "spacing": 10, "bounds": "flush",
      "hconcat": [
        {
          "width": 150, "height": 21,
          "view": {"fill": "#FFFFFF", "stroke": "#333333"},
          "data": {"name": "d"},
          "transform": [{"filter": "datum.type == 'Autonomy' && datum.group == 'Baseline'"}],
          "encoding": {"y": {"field": "label", "type": "nominal", "scale": {"type": "point", "padding": 0.6, "domain": ["Baseline"]},
            "axis": {"orient": "left", "title": null, "domain": false, "tickSize": 5, "tickColor": "#333333", "labelFontSize": 16, "labelColor": "#333333", "labelFontWeight": "bold", "labelPadding": 3, "labelLimit": 0, "minExtent": 175, "grid": true, "gridColor": "#EBEBEB", "gridWidth": 1}}},
          "layer": [
            {"mark": {"type": "rule", "strokeWidth": 1.6, "color": "#000000"},
             "encoding": {"x": {"field": "lo", "type": "quantitative", "scale": {"domain": [-1.065, 1.1], "nice": false, "zero": false},
               "axis": {"title": null, "values": [-1, -0.75, -0.5, -0.25, 0, 0.25, 0.5, 0.75, 1], "labelExpr": "abs(datum.value*2 - round(datum.value*2)) > 0.1 ? '' : (datum.value < 0 ? '-' : '') + format(abs(datum.value), '.1f')", "labelFontSize": 14, "labelColor": "#4D4D4D", "labelPadding": 5, "labelOverlap": false, "labelFlush": false, "tickSize": 4, "tickColor": "#333333", "tickOpacity": {"condition": {"test": "abs(datum.value*2 - round(datum.value*2)) > 0.1", "value": 0}, "value": 1}, "domain": false, "grid": true, "gridColor": {"condition": {"test": "datum.value == 0", "value": "#000000"}, "value": "#EBEBEB"}, "gridDash": {"condition": {"test": "datum.value == 0", "value": [5, 4]}, "value": []}, "gridWidth": {"condition": [{"test": "datum.value == 0", "value": 1.6}, {"test": "abs(datum.value*2 - round(datum.value*2)) > 0.1", "value": 0.6}], "value": 1}}},
               "x2": {"field": "hi"}}},
            {"mark": {"type": "point", "filled": true, "size": 50, "color": "#000000", "opacity": 1},
             "encoding": {"x": {"field": "est", "type": "quantitative", "scale": {"domain": [-1.065, 1.1], "nice": false, "zero": false},
               "axis": {"title": null, "values": [-1, -0.75, -0.5, -0.25, 0, 0.25, 0.5, 0.75, 1], "labelExpr": "abs(datum.value*2 - round(datum.value*2)) > 0.1 ? '' : (datum.value < 0 ? '-' : '') + format(abs(datum.value), '.1f')", "labelFontSize": 14, "labelColor": "#4D4D4D", "labelPadding": 5, "labelOverlap": false, "labelFlush": false, "tickSize": 4, "tickColor": "#333333", "tickOpacity": {"condition": {"test": "abs(datum.value*2 - round(datum.value*2)) > 0.1", "value": 0}, "value": 1}, "domain": false, "grid": true, "gridColor": {"condition": {"test": "datum.value == 0", "value": "#000000"}, "value": "#EBEBEB"}, "gridDash": {"condition": {"test": "datum.value == 0", "value": [5, 4]}, "value": []}, "gridWidth": {"condition": [{"test": "datum.value == 0", "value": 1.6}, {"test": "abs(datum.value*2 - round(datum.value*2)) > 0.1", "value": 0.6}], "value": 1}}}}}
          ]
        },
        {
          "width": 150, "height": 21,
          "view": {"fill": "#FFFFFF", "stroke": "#333333"},
          "data": {"name": "d"},
          "transform": [{"filter": "datum.type == 'Control' && datum.group == 'Baseline'"}],
          "encoding": {"y": {"field": "label", "type": "nominal", "scale": {"type": "point", "padding": 0.6, "domain": ["Baseline"]},
            "axis": {"orient": "right", "title": null, "labels": false, "ticks": false, "domain": false, "grid": true, "gridColor": "#EBEBEB", "gridWidth": 1}}},
          "layer": [
            {"mark": {"type": "rule", "strokeWidth": 1.6, "color": "#000000"},
             "encoding": {"x": {"field": "lo", "type": "quantitative", "scale": {"domain": [-1.065, 1.1], "nice": false, "zero": false},
               "axis": {"title": null, "values": [-1, -0.75, -0.5, -0.25, 0, 0.25, 0.5, 0.75, 1], "labelExpr": "abs(datum.value*2 - round(datum.value*2)) > 0.1 ? '' : (datum.value < 0 ? '-' : '') + format(abs(datum.value), '.1f')", "labelFontSize": 14, "labelColor": "#4D4D4D", "labelPadding": 5, "labelOverlap": false, "labelFlush": false, "tickSize": 4, "tickColor": "#333333", "tickOpacity": {"condition": {"test": "abs(datum.value*2 - round(datum.value*2)) > 0.1", "value": 0}, "value": 1}, "domain": false, "grid": true, "gridColor": {"condition": {"test": "datum.value == 0", "value": "#000000"}, "value": "#EBEBEB"}, "gridDash": {"condition": {"test": "datum.value == 0", "value": [5, 4]}, "value": []}, "gridWidth": {"condition": [{"test": "datum.value == 0", "value": 1.6}, {"test": "abs(datum.value*2 - round(datum.value*2)) > 0.1", "value": 0.6}], "value": 1}}},
               "x2": {"field": "hi"}}},
            {"mark": {"type": "point", "filled": true, "size": 50, "color": "#000000", "opacity": 1},
             "encoding": {"x": {"field": "est", "type": "quantitative", "scale": {"domain": [-1.065, 1.1], "nice": false, "zero": false},
               "axis": {"title": null, "values": [-1, -0.75, -0.5, -0.25, 0, 0.25, 0.5, 0.75, 1], "labelExpr": "abs(datum.value*2 - round(datum.value*2)) > 0.1 ? '' : (datum.value < 0 ? '-' : '') + format(abs(datum.value), '.1f')", "labelFontSize": 14, "labelColor": "#4D4D4D", "labelPadding": 5, "labelOverlap": false, "labelFlush": false, "tickSize": 4, "tickColor": "#333333", "tickOpacity": {"condition": {"test": "abs(datum.value*2 - round(datum.value*2)) > 0.1", "value": 0}, "value": 1}, "domain": false, "grid": true, "gridColor": {"condition": {"test": "datum.value == 0", "value": "#000000"}, "value": "#EBEBEB"}, "gridDash": {"condition": {"test": "datum.value == 0", "value": [5, 4]}, "value": []}, "gridWidth": {"condition": [{"test": "datum.value == 0", "value": 1.6}, {"test": "abs(datum.value*2 - round(datum.value*2)) > 0.1", "value": 0.6}], "value": 1}}}}}
          ]
        }
      ]
    }
  ]
}
